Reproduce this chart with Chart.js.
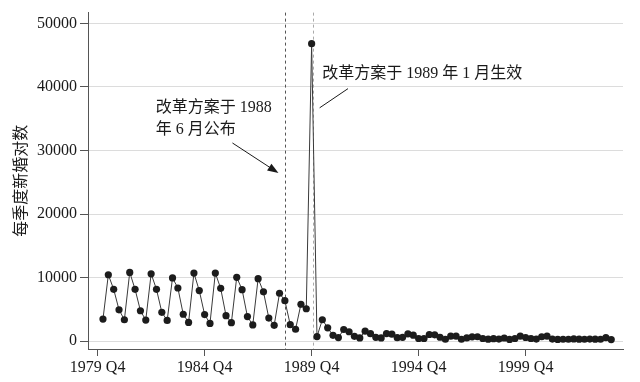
<!DOCTYPE html>
<html>
<head>
<meta charset="utf-8">
<script src="https://cdn.jsdelivr.net/npm/chart.js@4.4.1/dist/chart.umd.min.js"></script>
<style>
  html, body { margin: 0; padding: 0; background: #fff; }
</style>
</head>
<body>
<canvas id="chart" width="640" height="382"></canvas>
<script>
// quarters counted from 1979 Q4 (= 0); series starts 1980 Q1
const firstQuarter = 1;
const marriages = [
  3470, 10450, 8160, 4940, 3370, 10820, 8160, 4790, 3320, 10600,
  8160, 4540, 3260, 9950, 8370, 4240, 2950, 10710, 7960, 4180,
  2800, 10710, 8310, 4020, 2910, 10050, 8110, 3870, 2550, 9840,
  7760, 3630, 2490, 7540, 6380, 2600, 1880, 5810, 5100, 46800,
  720, 3370, 2100, 920, 570, 1840, 1480, 770, 510, 1580,
  1180, 610, 510, 1200, 1100, 550, 600, 1150, 950, 420,
  420, 1050, 1000, 620, 300, 780, 780, 300, 520, 680,
  700, 420, 320, 400, 330, 500, 280, 420, 800, 580,
  420, 330, 700, 780, 330, 280, 300, 300, 350, 320,
  300, 330, 320, 300, 550, 250
];
const xTickValues = [0, 20, 40, 60, 80];
const xTickLabels = ["1979 Q4", "1984 Q4", "1989 Q4", "1994 Q4", "1999 Q4"];
const yTicks = [0, 10000, 20000, 30000, 40000, 50000];
const announceQ = 35.1;   // 1988 年 6 月公布
const effectQ = 40.25;    // 1989 年 1 月生效

const serif = '"Liberation Serif", "Noto Sans CJK SC", serif';

const points = marriages.map((v, i) => ({ x: firstQuarter + i, y: v }));

const eventLines = {
  id: "eventLines",
  beforeDatasetsDraw(chart) {
    const { ctx, chartArea, scales } = chart;
    ctx.save();
    ctx.lineWidth = 1;
    ctx.setLineDash([3, 3]);
    [[announceQ, "#555"], [effectQ, "#aaa"]].forEach(([q, col]) => {
      const px = Math.round(scales.x.getPixelForValue(q)) + 0.5;
      ctx.strokeStyle = col;
      ctx.beginPath();
      ctx.moveTo(px, chartArea.top);
      ctx.lineTo(px, chartArea.bottom);
      ctx.stroke();
    });
    ctx.restore();
  },
  afterDatasetsDraw(chart) {
    const { ctx, scales } = chart;
    const X = (q) => scales.x.getPixelForValue(q);
    const Y = (v) => scales.y.getPixelForValue(v);
    ctx.save();
    ctx.fillStyle = "#1a1a1a";
    ctx.font = "16px " + serif;
    ctx.textBaseline = "middle";
    ctx.textAlign = "left";
    ctx.fillText("改革方案于 1988", X(10.85), Y(36760));
    ctx.fillText("年 6 月公布", X(10.85), Y(33220));
    ctx.fillText("改革方案于 1989 年 1 月生效", X(42.0), Y(41990));

    // arrow to announcement line
    const ax0 = X(25.2), ay0 = Y(31180), ax1 = X(33.8), ay1 = Y(26450);
    const ang = Math.atan2(ay1 - ay0, ax1 - ax0);
    ctx.strokeStyle = "#1a1a1a";
    ctx.lineWidth = 1;
    ctx.beginPath();
    ctx.moveTo(ax0, ay0);
    ctx.lineTo(ax1 - 8 * Math.cos(ang), ay1 - 8 * Math.sin(ang));
    ctx.stroke();
    ctx.beginPath();
    ctx.moveTo(ax1, ay1);
    ctx.lineTo(ax1 - 11 * Math.cos(ang) + 4 * Math.sin(ang), ay1 - 11 * Math.sin(ang) - 4 * Math.cos(ang));
    ctx.lineTo(ax1 - 11 * Math.cos(ang) - 4 * Math.sin(ang), ay1 - 11 * Math.sin(ang) + 4 * Math.cos(ang));
    ctx.closePath();
    ctx.fill();

    // plain pointer line to the effective date
    ctx.beginPath();
    ctx.moveTo(X(46.8), Y(39730));
    ctx.lineTo(X(41.5), Y(36710));
    ctx.stroke();
    ctx.restore();
  }
};

new Chart(document.getElementById("chart"), {
  type: "line",
  data: {
    datasets: [{
      data: points,
      borderColor: "#3a3a3a",
      borderWidth: 1,
      pointRadius: 3.6,
      pointBackgroundColor: "#1c1c1c",
      pointBorderColor: "#1c1c1c",
      pointBorderWidth: 0,
      tension: 0,
      clip: false
    }]
  },
  options: {
    responsive: false,
    animation: false,
    devicePixelRatio: 1,
    layout: { padding: { top: 5, right: 17, left: 0, bottom: 0 } },
    plugins: { legend: { display: false }, tooltip: { enabled: false } },
    scales: {
      x: {
        type: "linear",
        min: -1.8,
        max: 98.2,
        afterBuildTicks: (s) => { s.ticks = xTickValues.map((v) => ({ value: v })); },
        afterFit: (s) => { s.height = 33; },
        grid: { drawOnChartArea: false, tickLength: 7, tickColor: "#555" },
        border: { color: "#555", width: 1 },
        ticks: {
          autoSkip: false,
          maxRotation: 0,
          padding: 2,
          color: "#1a1a1a",
          font: { family: serif, size: 16 },
          callback: (v) => xTickLabels[xTickValues.indexOf(v)]
        }
      },
      y: {
        min: -1230,
        max: 51690,
        afterBuildTicks: (s) => { s.ticks = yTicks.map((v) => ({ value: v })); },
        afterFit: (s) => { s.width = 88; },
        grid: { color: "#dcdcdc", lineWidth: 1, tickLength: 8, tickColor: "#555" },
        border: { color: "#555", width: 1 },
        ticks: {
          padding: 3,
          color: "#1a1a1a",
          font: { family: serif, size: 16 },
          callback: (v) => String(v)
        },
        title: {
          display: true,
          text: "每季度新婚对数",
          color: "#1a1a1a",
          font: { family: '"Noto Sans CJK SC"', size: 16 },
          padding: { top: 10, bottom: 0 }
        }
      }
    }
  },
  plugins: [eventLines]
});
</script>
</body>
</html>
